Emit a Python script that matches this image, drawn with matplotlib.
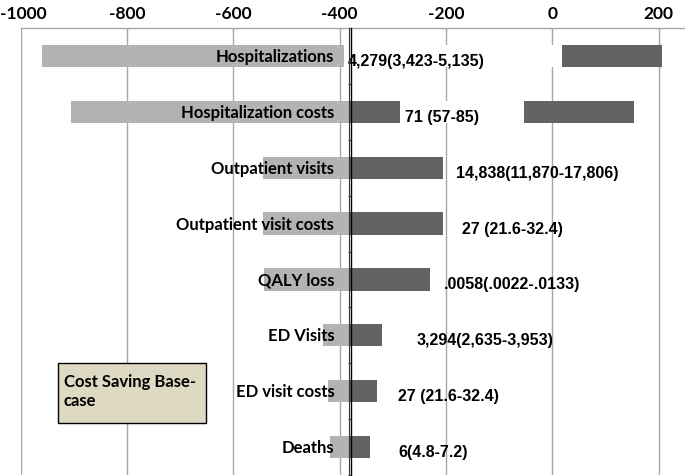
import matplotlib
matplotlib.use("Agg")
import matplotlib.pyplot as plt
import matplotlib.patches as patches
import matplotlib.transforms as mtransforms
import numpy as np

plt.rcParams['axes.unicode_minus'] = False

# Tornado diagram data
categories = ['Hospitalizations', 'Hospitalization costs', 'Outpatient visits',
              'Outpatient visit costs', 'QALY loss', 'ED Visits',
              'ED visit costs', 'Deaths']
low_values = [-960, -905, -545, -545, -542, -432, -421, -418]
high_values = [207, 153, -206, -206, -230, -320, -330, -342]
base_value = -380
range_labels = ['4,279(3,423-5,135)', '71 (57-85)', '14,838(11,870-17,806)',
                '27 (21.6-32.4)', '.0058(.0022-.0133)', '3,294(2,635-3,953)',
                '27 (21.6-32.4)', '6(4.8-7.2)']
# where each range label starts (x in axis units)
label_x = [-385, -277, -182, -169, -203, -255, -291, -290]
# white label boxes for the two top rows (x start, x end)
label_boxes = {0: (-392, 19), 1: (-286, -54)}
tick_values = [-1000, -800, -600, -400, -200, 0, 200]

LIGHT = '#B3B3B3'
DARK = '#636363'
GRID = '#A6A6A6'

W, H = 685, 477
fig = plt.figure(figsize=(W / 100, H / 100), dpi=100)

# axes run past the right edge (the chart was cropped just after 200)
left_px, right_px = 20.7, 764.9
top_px, bottom_px = 29.3, 475.7
ax = fig.add_axes([left_px / W, (H - bottom_px) / H,
                   (right_px - left_px) / W, (bottom_px - top_px) / H])

y = np.arange(len(categories))
bar_h = 0.4

ax.barh(y, np.array([base_value] * len(y)) - np.array(low_values), left=low_values,
        height=bar_h, color=LIGHT, zorder=2)
ax.barh(y, np.array(high_values) - base_value, left=base_value,
        height=bar_h, color=DARK, zorder=2)

for i, (x0, x1) in label_boxes.items():
    ax.add_patch(patches.Rectangle((x0, i - bar_h / 2), x1 - x0, bar_h,
                                   facecolor='white', edgecolor='none', zorder=3))

for i, cat in enumerate(categories):
    ax.annotate(cat, xy=(base_value, i), xytext=(-16, 0), textcoords='offset pixels',
                ha='right', va='center', fontsize=12, fontweight='bold',
                family='Lato', zorder=5)

for i, lab in enumerate(range_labels):
    ax.text(label_x[i], i + 0.08, lab, ha='left', va='center', fontsize=11.5,
            fontweight='bold', family='Liberation Sans', zorder=5)

# axes styling
ax.set_xlim(-1000, 400)
ax.set_ylim(len(categories) - 0.5, -0.5)
ax.set_xticks(tick_values)
ax.xaxis.tick_top()
ax.tick_params(axis='x', length=0, pad=5, labelsize=12.5)
for t in ax.get_xticklabels():
    t.set_fontweight('bold')
    t.set_family('Lato')
# keep the leftmost label inside the picture
first = ax.get_xticklabels()[0]
first.set_transform(first.get_transform() +
                    mtransforms.ScaledTranslation(3 / 100, 0, fig.dpi_scale_trans))
ax.grid(axis='x', color=GRID, linewidth=1.0, zorder=0)
ax.set_axisbelow(True)

ax.spines['bottom'].set_visible(False)
ax.spines['right'].set_visible(False)
ax.spines['top'].set_color(GRID)
ax.spines['top'].set_linewidth(1.0)
ax.spines['left'].set_position(('data', base_value + 1.5))
ax.spines['left'].set_color('black')
ax.spines['left'].set_linewidth(1.0)
ax.spines['left'].set_zorder(6)
ax.axvline(base_value - 3, color='#333333', linewidth=0.8, zorder=6)

ax.set_yticks(np.arange(-0.5, len(categories), 1.0))
ax.set_yticklabels([])
ax.tick_params(axis='y', direction='out', length=2.5, width=0.8, color='#333333')

# "Cost Saving Base-case" note
bx0, bx1, by0, by1 = 58.3, 205.7, 364.3, 424.3
fig.add_artist(patches.Rectangle((bx0 / W, 1 - by1 / H), (bx1 - bx0) / W, (by1 - by0) / H,
                                 transform=fig.transFigure, facecolor='#DDD9C3',
                                 edgecolor='black', linewidth=1.0, zorder=10))
fig.text(63.5 / W, 1 - 391.5 / H, 'Cost Saving Base-\ncase', ha='left', va='center',
         fontsize=12, fontweight='bold', family='Lato', linespacing=1.25, zorder=11)

fig.savefig('out.png', dpi=100)
plt.close(fig)
